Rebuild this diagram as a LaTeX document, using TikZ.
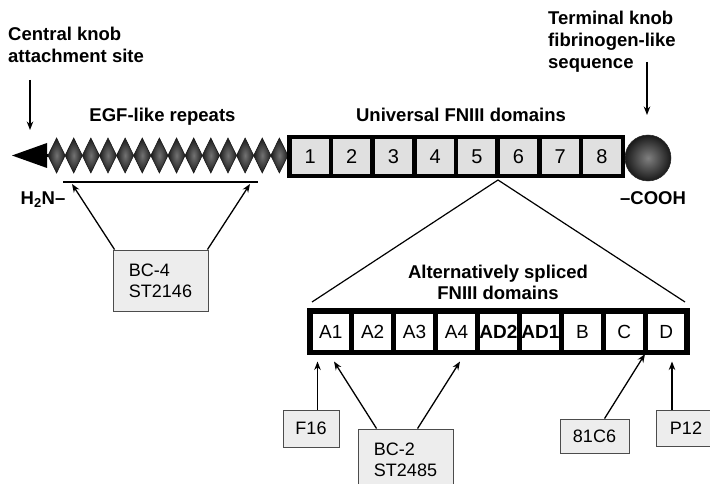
\documentclass[tikz,border=0pt]{standalone}
\usepackage{fontspec}
\setmainfont{Liberation Sans}
\usetikzlibrary{arrows.meta,calc}
\begin{document}
\begin{tikzpicture}[x=1pt,y=-1pt,
  lbl/.style={font=\fontsize{18.5}{21.7}\selectfont\bfseries, inner sep=0pt},
  abox/.style={draw=black!70, line width=0.9pt, fill=black!7, font=\fontsize{18}{21}\selectfont, inner sep=0pt, align=left},
  arr/.style={line width=1.3pt, -{Stealth[length=8.5pt,width=6.5pt]}},
  ubox/.style={draw=black, line width=4.5pt, fill=black!12, minimum width=41.69pt, minimum height=39pt, inner sep=0pt, font=\fontsize{20}{20}\selectfont},
  sbox/.style={draw=black, line width=5.5pt, fill=white, minimum width=41.94pt, minimum height=41.3pt, inner sep=0pt, font=\fontsize{19}{19}\selectfont},
  egfd/.style={draw=black!90, line width=0.6pt, inner color=black!55, outer color=black!90},
]
\useasboundingbox (0,0) rectangle (710,484);

% ---- labels
\node[lbl, anchor=north west, align=left] (ck) at (8,27) {Central knob\\attachment site};
\node[lbl] (egf) at (162.5,117) {EGF-like repeats};
\node[lbl] (univ) at (461,115) {Universal FNIII domains};
\node[lbl, anchor=north west, align=left] (tk) at (548,11) {Terminal knob\\fibrinogen-like\\sequence};
\node[lbl] (h2n) at (43,200) {H\textsubscript{2}N–};
\node[lbl] (cooh) at (653,198) {–COOH};
\node[lbl, align=center] (alt) at (498,282.5) {Alternatively spliced\\FNIII domains};

% ---- N-terminal arrowhead and EGF repeats
\fill[black] (12,155.5) -- (47,143) -- (47,168) -- cycle;
\draw[line width=3pt] (45,155.5) -- (51,155.5);
\foreach \i in {0,...,13}{
  \pgfmathsetmacro{\xa}{48+17.14*\i}
  \shade[egfd] (\xa,155.5) -- (\xa+8.57,138) -- (\xa+17.14,155.5) -- (\xa+8.57,173) -- cycle;
}
\coordinate (egfbarL) at (63,182);
\coordinate (egfbarR) at (258,182);
\draw[line width=2pt] (egfbarL) -- (egfbarR);

% ---- universal FNIII domains
\foreach \n in {1,...,8}{
  \node[ubox] (u\n) at ({289.25+41.69*(\n-0.5)},156.75) {\n};
}
% ---- C-terminal knob
\node[circle, minimum size=46pt, inner sep=0pt, draw=black!85, line width=0.5pt, inner color=black!50, outer color=black!90] (knob) at (648,158) {};

% ---- alternatively spliced domains
\foreach \lab/\nm [count=\k] in {A1/a1,A2/a2,A3/a3,A4/a4,{\textbf{AD2}}/ad2,{\textbf{AD1}}/ad1,B/b,C/c,D/d}{
  \node[sbox] (\nm) at ({309.75+41.94*(\k-0.5)},331.65) {\lab};
}
\coordinate (apex) at (498,180);
\coordinate (altL) at (312,302);
\coordinate (altR) at (685,302);
\draw[line width=1.2pt] (altL) -- (apex) -- (altR);

% ---- pointer arrows for knobs
\coordinate (ckA) at (30,80);
\coordinate (ckB) at (30,130);
\draw[arr] (ckA) -- (ckB);
\coordinate (tkA) at (647,62);
\coordinate (tkB) at (647,115);
\draw[arr] (tkA) -- (tkB);

% ---- antibody boxes
\node[abox, minimum width=95pt, minimum height=61pt] (bc4) at (160.5,280.5) {BC-4\\ST2146};
\node[abox, minimum width=95pt, minimum height=61pt] (bc2) at (405.5,459.5) {BC-2\\ST2485};
\node[abox, minimum width=56pt, minimum height=37pt] (f16) at (311,428.5) {F16};
\node[abox, minimum width=69pt, minimum height=34pt] (c81) at (594.5,436) {81C6};
\node[abox, minimum width=60pt, minimum height=36pt] (p12) at (686,428) {P12};

\coordinate (egfT1) at (72,184);
\coordinate (egfT2) at (250,184);
\draw[arr] ($(bc4.north west)+(2,0)$) -- (egfT1);
\draw[arr] ($(bc4.north east)+(-1,0)$) -- (egfT2);

\coordinate (f16T) at (317.5,361.5);
\coordinate (bc2T1) at (334,361.5);
\coordinate (bc2T2) at (460,361.5);
\coordinate (c81T) at (645,354);
\coordinate (p12T) at (672,361.5);
\draw[arr] (f16.north -| f16T) -- (f16T);
\draw[arr] ($(bc2.north west)+(19,0)$) -- (bc2T1);
\draw[arr] ($(bc2.north west)+(60,0)$) -- (bc2T2);
\draw[arr] ($(c81.north west)+(45,0)$) -- (c81T);
\draw[arr] (p12.north -| p12T) -- (p12T);
\end{tikzpicture}
\end{document}
